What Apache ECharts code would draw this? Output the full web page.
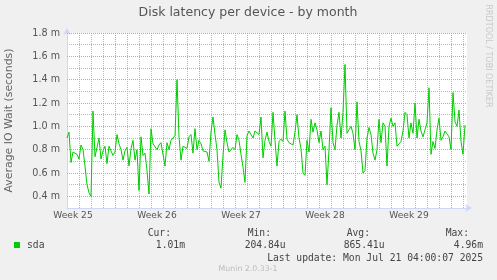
<!DOCTYPE html>
<html>
<head>
<meta charset="utf-8">
<script src="https://cdn.jsdelivr.net/npm/echarts@6/dist/echarts.min.js"></script>
<style>
html,body{margin:0;padding:0;background:#f0f0f0;}
#chart{width:497px;height:280px;}
</style>
</head>
<body>
<div id="chart"></div>
<script>
// ---- data ----
const chartTitle = 'Disk latency per device - by month';
const yAxisTitle = 'Average IO Wait (seconds)';
const watermark = 'RRDTOOL / TOBI OETIKER';
const seriesName = 'sda';
const footerText = 'Munin 2.0.33-1';
const lastUpdate = 'Last update: Mon Jul 21 04:00:07 2025';
const legendHeaders = ['Cur:', 'Min:', 'Avg:', 'Max:'];
const legendValues = ['1.01m', '204.84u', '865.41u', '4.96m'];

// time axis in days, 0 = start of Week 26
const startDay = -4;
const endDay = 29.3333;
const stepDays = 1 / 6;            // one sample every 4 hours
const weekLabels = ['Week 25', 'Week 26', 'Week 27', 'Week 28', 'Week 29'];
const weekLabelDays = [-3.5, 3.5, 10.5, 17.5, 24.5];
const weekBoundaryDays = [0, 7, 14, 21, 28];
const yMin = 0.3, yMax = 1.8, yMinorStep = 0.1;
const yMajorTicks = [0.4, 0.6, 0.8, 1.0, 1.2, 1.4, 1.6, 1.8];

// IO wait in milliseconds
const ioWait = [
 0.90,0.95,0.69,0.78,0.79,0.76,0.72,0.84,0.80,0.66,
 0.50,0.43,0.40,1.13,0.74,0.82,0.90,0.72,0.79,0.83,
 0.68,0.83,0.79,0.75,0.78,0.93,0.85,0.80,0.71,0.79,
 0.82,0.66,0.81,0.88,0.71,0.80,0.45,0.91,0.75,0.77,
 0.62,0.42,0.98,0.85,0.85,0.80,0.84,0.86,0.85,0.66,
 0.86,0.80,0.88,0.87,0.92,1.40,0.91,0.71,0.83,0.84,
 0.81,0.91,0.93,0.77,0.98,0.80,0.88,0.85,0.79,0.78,
 0.78,0.70,0.95,1.08,0.93,0.80,0.52,0.47,0.75,0.97,
 0.86,0.78,0.79,0.82,0.80,0.93,0.88,0.76,0.65,0.52,
 0.92,0.96,0.97,0.90,0.96,0.97,0.93,1.08,0.73,0.88,
 0.95,0.87,0.83,1.12,0.88,0.66,0.87,0.89,0.87,1.13,
 0.89,0.86,0.86,0.84,0.95,1.10,0.90,0.81,0.60,0.58,
 0.88,0.78,1.06,0.95,1.03,0.97,0.86,0.96,0.80,0.83,
 0.50,0.80,1.16,0.86,0.80,1.01,1.12,0.90,1.12,1.53,
 0.94,0.97,1.00,0.94,0.80,1.21,0.87,0.79,0.60,0.62,
 0.90,0.99,0.93,0.77,0.71,0.80,1.06,0.86,1.03,1.00,
 0.66,1.00,1.07,1.00,1.03,0.83,0.84,0.87,0.96,1.12,
 1.10,0.90,1.03,0.94,1.20,0.90,1.06,0.96,0.91,0.97,
 1.03,1.33,0.76,0.87,0.81,0.97,1.07,0.88,0.91,0.96,
 0.97,0.91,0.80,1.29,1.04,1.00,1.14,0.87,0.76,1.01
];

// ---- chart ----
const SANS = 'DejaVu Sans';
const MONO = 'DejaVu Sans Mono';
const AXIS_COLOR = '#CFD6F8';
const MINOR_GRID = '#b8b8b8';
const MAJOR_GRID = '#eb9595';
const LINE_COLOR = '#00CC00';

const points = ioWait.map((v, i) => [startDay + i * stepDays, v]);

const chart = echarts.init(document.getElementById('chart'), null, {renderer: 'canvas'});

const headerRight = [171, 271, 370, 469];
const valueRight = [185, 285.5, 384.5, 483];

const graphics = [
  {type: 'text', x: 248, y: 13, style: {text: chartTitle, align: 'center', verticalAlign: 'middle', fontFamily: SANS, fontSize: 12.5, fill: '#555'}},
  {type: 'text', x: 9, y: 120.5, rotation: Math.PI / 2, style: {text: yAxisTitle, align: 'center', verticalAlign: 'middle', fontFamily: SANS, fontSize: 10.9, fill: '#666'}},
  {type: 'text', x: 488, y: 56, rotation: -Math.PI / 2, style: {text: watermark, align: 'center', verticalAlign: 'middle', fontFamily: SANS, fontSize: 8, fill: '#c8c8c8'}},
  {type: 'rect', shape: {x: 14, y: 242, width: 6, height: 6}, style: {fill: LINE_COLOR}},
  {type: 'text', x: 27, y: 245, style: {text: seriesName, align: 'left', verticalAlign: 'middle', fontFamily: MONO, fontSize: 9.7, fill: '#444'}},
  {type: 'text', x: 483, y: 258, style: {text: lastUpdate, align: 'right', verticalAlign: 'middle', fontFamily: MONO, fontSize: 9.7, fill: '#444'}},
  {type: 'text', x: 248, y: 269, style: {text: footerText, align: 'center', verticalAlign: 'middle', fontFamily: SANS, fontSize: 7.8, fill: '#bbb'}}
];
legendHeaders.forEach((h, k) => {
  graphics.push({type: 'text', x: headerRight[k], y: 233.5, style: {text: h, align: 'right', verticalAlign: 'middle', fontFamily: MONO, fontSize: 9.7, fill: '#444'}});
  graphics.push({type: 'text', x: valueRight[k], y: 245, style: {text: legendValues[k], align: 'right', verticalAlign: 'middle', fontFamily: MONO, fontSize: 9.7, fill: '#444'}});
});

const crisp = v => Math.round(v - 0.5) + 0.5;
const majorLineStyle = {stroke: MAJOR_GRID, lineWidth: 1, lineDash: [1, 1]};

const option = {
  animation: false,
  backgroundColor: '#f0f0f0',
  grid: {left: 67, top: 33, width: 400, height: 175, show: true, backgroundColor: '#ffffff', borderWidth: 0},
  xAxis: [
    {
      type: 'value', min: startDay, max: endDay, interval: 1,
      axisLine: {show: true, onZero: false, lineStyle: {color: AXIS_COLOR, width: 1}, symbol: ['none', 'arrow'], symbolSize: [6, 7], symbolOffset: [0, 5]},
      axisTick: {show: false},
      axisLabel: {show: false},
      splitLine: {show: true, showMaxLine: false, lineStyle: {color: MINOR_GRID, type: [1, 1], width: 1}}
    },
    {
      type: 'value', min: startDay, max: endDay, interval: 0.5, position: 'bottom', offset: 0,
      axisLine: {show: false, onZero: false}, axisTick: {show: false}, splitLine: {show: false},
      axisLabel: {
        show: true, margin: 3, color: '#555', fontFamily: SANS, fontSize: 9.1,
        formatter: v => {
          const k = weekLabelDays.findIndex(d => Math.abs(d - v) < 1e-6);
          return k >= 0 ? weekLabels[k] : '';
        }
      }
    }
  ],
  yAxis: {
    type: 'value', min: yMin, max: yMax, interval: yMinorStep,
    axisLine: {show: true, onZero: false, lineStyle: {color: AXIS_COLOR, width: 1}, symbol: ['none', 'arrow'], symbolSize: [6, 7], symbolOffset: [0, 5]},
    axisTick: {show: false},
    axisLabel: {
      show: true, margin: 7, color: '#555', fontFamily: SANS, fontSize: 9.6,
      formatter: v => {
        const r = Math.round(v * 10);
        return (r % 2 === 0) ? (r / 10).toFixed(1) + ' m' : '';
      }
    },
    splitLine: {show: true, lineStyle: {color: MINOR_GRID, type: [1, 1], width: 1}}
  },
  series: [
    {
      // major vertical gridlines at week boundaries (drawn top to bottom, like the axis split lines)
      type: 'custom', xAxisIndex: 0, yAxisIndex: 0, z: 2, silent: true,
      dimensions: ['day'], encode: {x: 0},
      data: weekBoundaryDays.map(d => [d]),
      renderItem: (params, api) => {
        const d = api.value(0);
        const a = api.coord([d, yMax]);
        const b = api.coord([d, yMin]);
        const x = crisp(a[0]);
        return {type: 'line', shape: {x1: x, y1: a[1], x2: x, y2: b[1]}, style: majorLineStyle};
      }
    },
    {
      // major horizontal gridlines
      type: 'custom', xAxisIndex: 0, yAxisIndex: 0, z: 2, silent: true,
      dimensions: ['value'], encode: {y: 0},
      data: yMajorTicks.map(v => [v]),
      renderItem: (params, api) => {
        const v = api.value(0);
        const a = api.coord([startDay, v]);
        const b = api.coord([endDay, v]);
        const y = crisp(a[1]);
        return {type: 'line', shape: {x1: a[0], y1: y, x2: b[0], y2: y}, style: majorLineStyle};
      }
    },
    {
      name: seriesName, type: 'line', xAxisIndex: 0, yAxisIndex: 0, data: points, z: 3,
      showSymbol: false, symbol: 'none', smooth: false,
      lineStyle: {color: LINE_COLOR, width: 1},
      itemStyle: {color: LINE_COLOR}
    }
  ],
  graphic: graphics
};
chart.setOption(option);
</script>
</body>
</html>
